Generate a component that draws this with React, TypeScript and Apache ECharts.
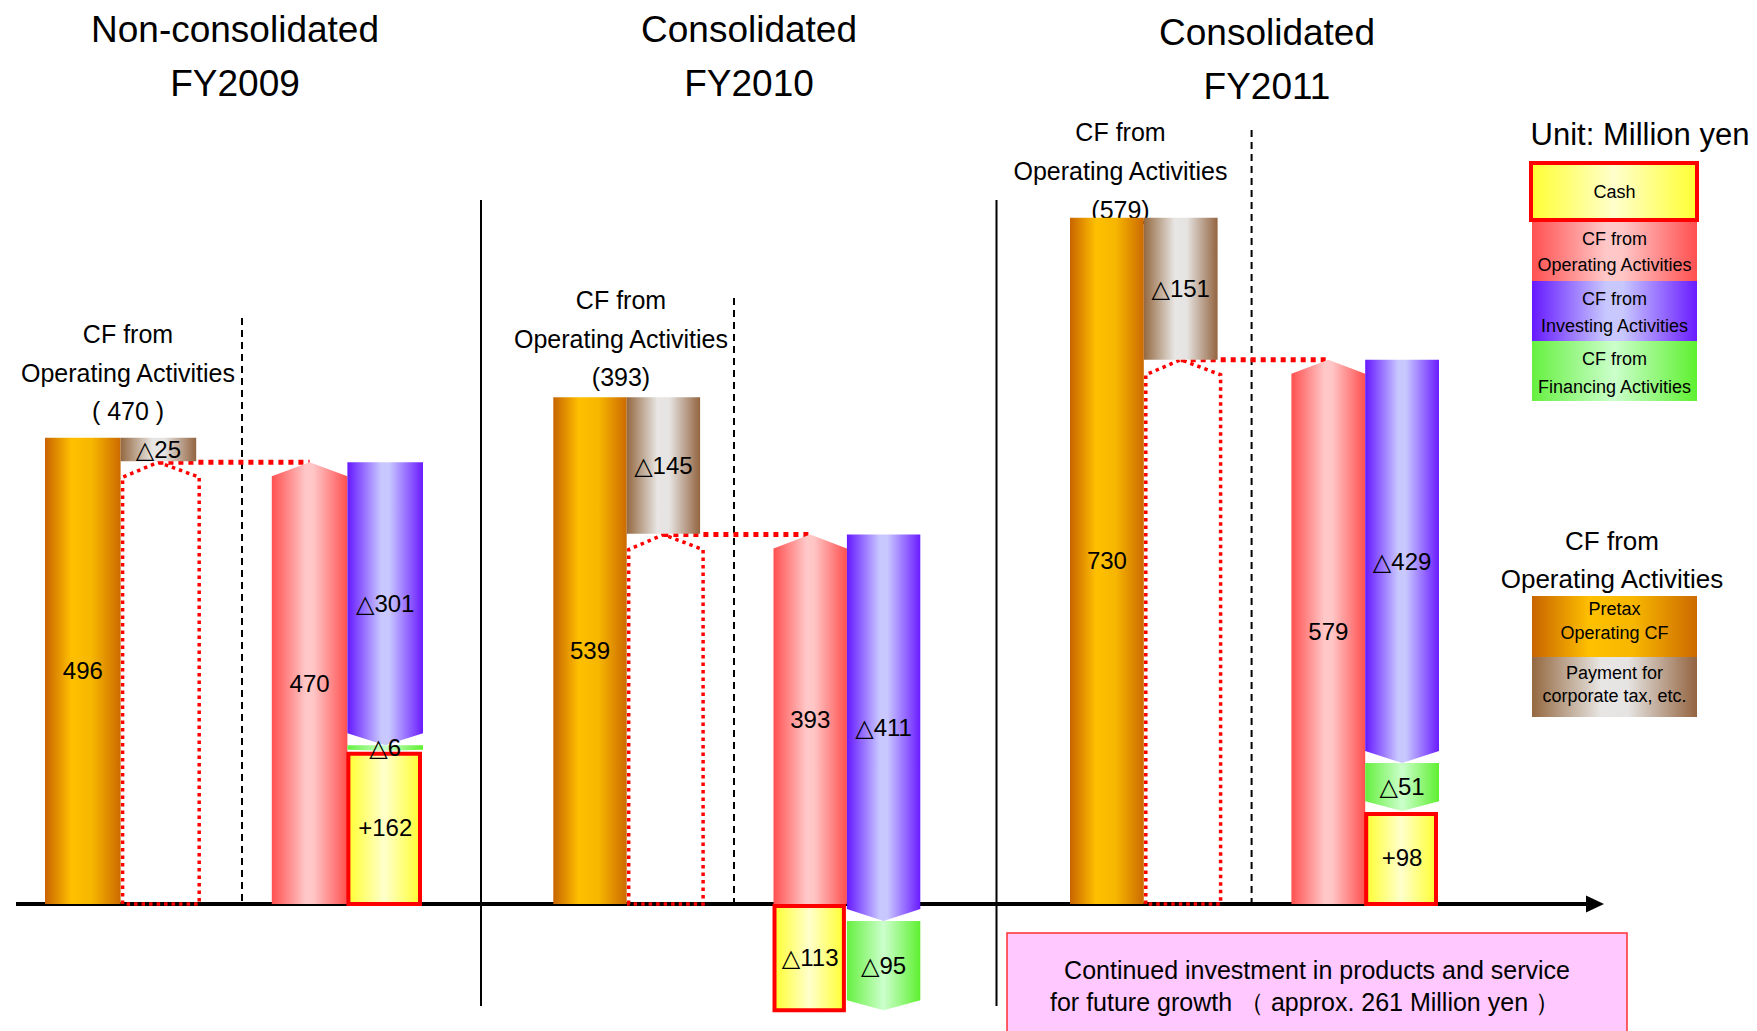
import React, { useEffect, useRef } from 'react';
import * as echarts from 'echarts';

// ---------- data (Unit: Million yen) ----------
const periodHeads = ['Non-consolidated', 'Consolidated', 'Consolidated'];
const fiscalYears = ['FY2009', 'FY2010', 'FY2011'];
const pretaxOperatingCF = [496, 539, 730];
const corporateTaxPaid = [-25, -145, -151];
const operatingCF = [470, 393, 579];
const investingCF = [-301, -411, -429];
const financingCF = [-6, -95, -51];
const cashChange = [162, -113, 98];
const slotNames = ['Pretax Operating CF', 'Payment for corporate tax', '', 'CF from Operating Activities', 'CF from Investing / Financing'];
const noteLines = [
  'Continued investment in products and service',
  'for future growth （ approx. 261 Million yen ）',
];

// ---------- layout / style ----------
const FONT = '"Liberation Sans", Arial, "DejaVu Sans", sans-serif';
const gridLefts = [45, 553.3, 1070];
const gridWidths = [378, 367, 369];
const Y_MIN = -130;
const Y_MAX = 800;

type Stop = [number, string];
const grad = (stops: Stop[]) =>
  new echarts.graphic.LinearGradient(0, 0, 1, 0, stops.map(([offset, color]) => ({ offset, color })));
const ORANGE: Stop[] = [[0, '#C86400'], [0.35, '#FFC000'], [0.62, '#F7B600'], [1, '#CC6A00']];
const BROWN: Stop[] = [[0, '#946840'], [0.42, '#E8E6E4'], [0.58, '#E6E4E2'], [1, '#936440']];
const RED: Stop[] = [[0, '#FF5050'], [0.45, '#FFC8C8'], [0.55, '#FFC6C6'], [1, '#FF5050']];
const BLUE: Stop[] = [[0, '#6619FF'], [0.45, '#C8C8FF'], [0.55, '#C8C8FF'], [1, '#6A1CFF']];
const GREEN: Stop[] = [[0, '#66F040'], [0.5, '#CCFFCC'], [1, '#5EF030']];
const YELLOW: Stop[] = [[0, '#FFFF33'], [0.5, '#FFFFCC'], [1, '#FFFF33']];

const fmt = (v: number) => (v < 0 ? '△' + Math.abs(v) : String(v));
const fmtCash = (v: number) => (v < 0 ? '△' + Math.abs(v) : '+' + v);

type Seg = { kind: string; cat: number; from: number; to: number; label?: string };

function buildSegments(p: number): Seg[] {
  const pre = pretaxOperatingCF[p];
  const op = operatingCF[p];
  const afterInv = op + investingCF[p];
  const afterFin = afterInv + financingCF[p];
  const cash = cashChange[p];
  return [
    { kind: 'outline', cat: 1, from: 0, to: op },
    { kind: 'link', cat: 1, from: op, to: op },
    { kind: 'pretax', cat: 0, from: 0, to: pre, label: fmt(pre) },
    { kind: 'tax', cat: 1, from: pre, to: pre + corporateTaxPaid[p], label: fmt(corporateTaxPaid[p]) },
    { kind: 'operating', cat: 3, from: 0, to: op, label: fmt(op) },
    { kind: 'investing', cat: 4, from: op, to: afterInv, label: fmt(investingCF[p]) },
    { kind: 'financing', cat: 4, from: afterInv, to: afterFin, label: fmt(financingCF[p]) },
    { kind: 'cash', cat: cash >= 0 ? 4 : 3, from: 0, to: cash, label: fmtCash(cash) },
  ];
}

const labelText = (x: number, y: number, text: string) => ({
  type: 'text',
  x,
  y,
  z2: 20,
  style: { text, font: `24px ${FONT}`, fill: '#000', align: 'center', verticalAlign: 'middle' },
});

function makeRenderer(segs: Seg[]) {
  return (params: any, api: any) => {
    const s = segs[params.dataIndex];
    const bw = api.size([1, 0])[0];
    const cx = api.coord([s.cat, 0])[0];
    const yA = api.coord([s.cat, s.from])[1];
    const yB = api.coord([s.cat, s.to])[1];
    const L = cx - bw / 2;
    const R = cx + bw / 2;
    const mid = (yA + yB) / 2;
    const children: any[] = [];
    switch (s.kind) {
      case 'outline':
        children.push({
          type: 'polygon',
          shape: { points: [[L + 2, yA], [L + 2, yB + 15], [cx, yB], [R + 3, yB + 15], [R + 3, yA]] },
          style: { fill: 'none', stroke: '#FF0000', lineWidth: 3.5, lineDash: [3.5, 4] },
        });
        break;
      case 'link': {
        const x3 = api.coord([3, 0])[0];
        children.push({
          type: 'line',
          shape: { x1: cx, y1: yB, x2: x3, y2: yB },
          style: { stroke: '#FF0000', lineWidth: 5, lineDash: [5, 5] },
        });
        break;
      }
      case 'pretax':
      case 'tax':
        children.push({
          type: 'rect',
          shape: { x: L, y: Math.min(yA, yB), width: bw, height: Math.abs(yB - yA) },
          style: { fill: grad(s.kind === 'pretax' ? ORANGE : BROWN) },
        });
        children.push(labelText(cx, mid, s.label!));
        break;
      case 'operating':
        children.push({
          type: 'polygon',
          shape: { points: [[L, yA], [L, yB + 14], [cx, yB], [R, yB + 14], [R, yA]] },
          style: { fill: grad(RED) },
        });
        children.push(labelText(cx, mid, s.label!));
        break;
      case 'investing':
      case 'financing': {
        const h = Math.abs(yB - yA);
        const d = s.kind === 'investing' ? Math.min(12, h * 0.3) : Math.min(10, h * 0.2);
        children.push({
          type: 'polygon',
          shape: { points: [[L, yA], [R, yA], [R, yB - d], [cx, yB], [L, yB - d]] },
          style: { fill: grad(s.kind === 'investing' ? BLUE : GREEN) },
        });
        children.push(labelText(cx, mid, s.label!));
        break;
      }
      case 'cash':
        children.push({
          type: 'rect',
          shape: { x: L + 1, y: Math.min(yA, yB) + 2, width: bw - 4, height: Math.abs(yB - yA) - 2 },
          style: { fill: grad(YELLOW), stroke: '#FF0000', lineWidth: 4 },
        });
        children.push(labelText(cx, mid, s.label!));
        break;
    }
    return { type: 'group', children };
  };
}

const txt = (x: number, y: number, text: string, size: number) => ({
  type: 'text',
  x,
  y,
  silent: true,
  style: { text, font: `${size}px ${FONT}`, fill: '#000', align: 'center', verticalAlign: 'middle' },
});

const box = (x: number, y: number, w: number, h: number, stops: Stop[], stroke?: string) => ({
  type: 'rect',
  shape: { x, y, width: w, height: h },
  style: stroke ? { fill: grad(stops), stroke, lineWidth: 4 } : { fill: grad(stops) },
});

export default function App() {
  const ref = useRef<HTMLDivElement>(null);

  useEffect(() => {
    if (!ref.current) return;
    const chart = echarts.init(ref.current, undefined, { renderer: 'svg' });

    const grids = [0, 1, 2].map((p) => ({
      left: gridLefts[p],
      width: gridWidths[p],
      top: 152,
      bottom: 4.8,
    }));
    const xAxes = [0, 1, 2].map((p) => ({
      type: 'category',
      gridIndex: p,
      data: slotNames,
      show: false,
      boundaryGap: true,
    }));
    const yAxes = [0, 1, 2].map((p) => ({
      type: 'value',
      gridIndex: p,
      min: Y_MIN,
      max: Y_MAX,
      show: false,
    }));
    const series = [0, 1, 2].map((p) => {
      const segs = buildSegments(p);
      return {
        type: 'custom',
        name: `${periodHeads[p]} ${fiscalYears[p]}`,
        xAxisIndex: p,
        yAxisIndex: p,
        clip: false,
        encode: { x: 0, y: [1, 2] },
        data: segs.map((s) => [s.cat, s.from, s.to]),
        renderItem: makeRenderer(segs),
      };
    });

    const cfLabelPos = [
      { x: 128, ys: [334, 373, 411] },
      { x: 621, ys: [300, 338.5, 376.5] },
      { x: 1120.5, ys: [132, 171, 209.5] },
    ];
    const titlePos = [
      { x: 235, ys: [29, 83] },
      { x: 749, ys: [29, 83] },
      { x: 1267, ys: [32, 86] },
    ];
    const dashedLines = [
      { x: 242, top: 318 },
      { x: 734, top: 298 },
      { x: 1251.6, top: 130 },
    ];

    const elements: any[] = [];
    // baseline with arrow
    elements.push({ type: 'line', shape: { x1: 16, y1: 904, x2: 1590, y2: 904 }, style: { stroke: '#000', lineWidth: 4 } });
    elements.push({ type: 'polygon', shape: { points: [[1586, 895.5], [1604, 904], [1586, 912.5]] }, style: { fill: '#000' } });
    // panel separators
    [481, 996.5].forEach((x) =>
      elements.push({ type: 'line', shape: { x1: x, y1: 200, x2: x, y2: 1006 }, style: { stroke: '#000', lineWidth: 2 } })
    );
    dashedLines.forEach((d) =>
      elements.push({
        type: 'line',
        shape: { x1: d.x, y1: d.top, x2: d.x, y2: 904 },
        style: { stroke: '#000', lineWidth: 2, lineDash: [7, 5] },
      })
    );
    [0, 1, 2].forEach((p) => {
      elements.push(txt(titlePos[p].x, titlePos[p].ys[0], periodHeads[p], 37));
      elements.push(txt(titlePos[p].x, titlePos[p].ys[1], fiscalYears[p], 37));
      const pad = p === 0 ? ' ' : '';
      const lines = ['CF from', 'Operating Activities', `(${pad}${operatingCF[p]}${pad})`];
      lines.forEach((t, i) => elements.push(txt(cfLabelPos[p].x, cfLabelPos[p].ys[i], t, 25)));
    });

    // legend
    const lx = 1532;
    const lw = 165;
    const lc = lx + lw / 2;
    elements.push(txt(1640, 134, 'Unit: Million yen', 31));
    elements.push(box(lx - 1, 163, lw + 1, 57, YELLOW, '#FF0000'));
    elements.push(txt(lc, 191.5, 'Cash', 18));
    elements.push(box(lx, 222, lw, 59, RED));
    elements.push(txt(lc, 239, 'CF from', 18));
    elements.push(txt(lc, 265, 'Operating Activities', 18));
    elements.push(box(lx, 281, lw, 60, BLUE));
    elements.push(txt(lc, 299, 'CF from', 18));
    elements.push(txt(lc, 326, 'Investing Activities', 18));
    elements.push(box(lx, 341, lw, 60, GREEN));
    elements.push(txt(lc, 358.5, 'CF from', 18));
    elements.push(txt(lc, 386.5, 'Financing Activities', 18));

    elements.push(txt(1612, 541, 'CF from', 26));
    elements.push(txt(1612, 579, 'Operating Activities', 26));
    elements.push(box(lx, 596, lw, 61, ORANGE));
    elements.push(txt(lc, 608.5, 'Pretax', 18));
    elements.push(txt(lc, 633, 'Operating CF', 18));
    elements.push(box(lx, 657, lw, 60, BROWN));
    elements.push(txt(lc, 673, 'Payment for', 18));
    elements.push(txt(lc, 696, 'corporate tax, etc.', 18));

    // note box
    elements.push({
      type: 'rect',
      shape: { x: 1007, y: 933, width: 620, height: 120 },
      style: { fill: '#FFC8FF', stroke: '#FF3030', lineWidth: 1.5 },
    });
    elements.push(txt(1317, 970, noteLines[0], 25));
    elements.push(txt(1305, 1002, noteLines[1], 25));

    chart.setOption({
      animation: false,
      backgroundColor: '#ffffff',
      grid: grids,
      xAxis: xAxes,
      yAxis: yAxes,
      series,
      graphic: { elements },
    });

    return () => chart.dispose();
  }, []);

  return (
    <div
      ref={ref}
      style={{ position: 'absolute', left: 0, top: 0, width: 1757, height: 1031 }}
    />
  );
}
